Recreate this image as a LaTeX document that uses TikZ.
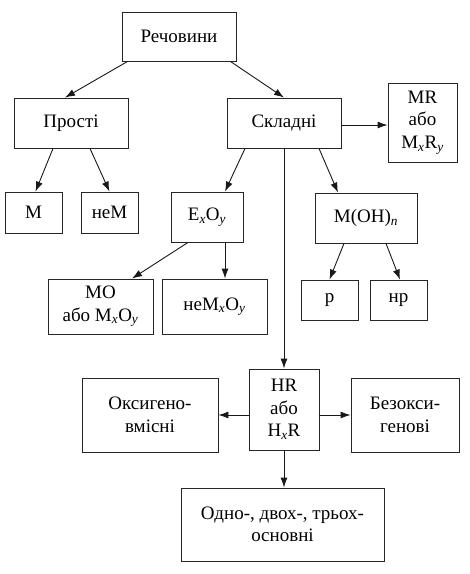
\documentclass[tikz,border=0pt]{standalone}
\usepackage{fontspec}
\setmainfont{Liberation Serif}
\usetikzlibrary{arrows.meta}
\newcommand{\sbi}[1]{\textsubscript{\textit{#1}}}
\begin{document}
\begin{tikzpicture}[x=1pt,y=-1pt,
  box/.style={draw=black!85, line width=0.9pt, rectangle, inner sep=0pt, align=center,
    font=\fontsize{19}{22.5}\selectfont, text=black},
  arr/.style={line width=0.9pt, draw=black!90, -{Latex[length=10pt,width=7pt]}}]
\useasboundingbox (0,0) rectangle (470,574);
\fill[white] (0,0) rectangle (470,574);
\node[box, minimum width=114pt, minimum height=49pt] (rech) at (179,36.5) {Речовини};
\node[box, minimum width=114pt, minimum height=50pt] (prost) at (71,123) {Прості};
\node[box, minimum width=114pt, minimum height=50pt] (skl) at (284,123) {Складні};
\node[box, minimum width=69pt, minimum height=79pt] (mr) at (422.5,122.5) {MR\\або\\M\sbi{x}R\sbi{y}};
\node[box, minimum width=57pt, minimum height=41pt] (m) at (33.5,212.5) {M};
\node[box, minimum width=57pt, minimum height=41pt] (nem) at (109.5,212.5) {неM};
\node[box, minimum width=72pt, minimum height=50pt] (exoy) at (207,217) {E\sbi{x}O\sbi{y}};
\node[box, minimum width=102pt, minimum height=50pt] (moh) at (366,218) {M(OH)\sbi{n}};
\node[box, minimum width=105pt, minimum height=55pt] (mo) at (100.5,306.5) {MO\\або M\sbi{x}O\sbi{y}};
\node[box, minimum width=105pt, minimum height=55pt] (nemo) at (214.5,306.5) {неM\sbi{x}O\sbi{y}};
\node[box, minimum width=57pt, minimum height=40pt] (r) at (329.5,300) {р};
\node[box, minimum width=57pt, minimum height=40pt] (nr) at (398.5,300) {нр};
\node[box, minimum width=70pt, minimum height=81pt] (hr) at (284,409.5) {HR\\або\\H\sbi{x}R};
\node[box, minimum width=136pt, minimum height=74pt] (oks) at (150,415) {Оксигено-\\вмісні};
\node[box, minimum width=108pt, minimum height=74pt] (bez) at (405,415) {Безокси-\\генові};
\node[box, minimum width=203pt, minimum height=73pt] (odno) at (282.5,524.5) {Одно-, двох-, трьох-\\основні};

\draw[arr] ([xshift=6pt]rech.south west) -- ([xshift=-6pt]prost.north);
\draw[arr] ([xshift=-6pt]rech.south east) -- (skl.north);
\draw[arr] ([xshift=-18pt]prost.south) -- ([xshift=2pt]m.north);
\draw[arr] ([xshift=19pt]prost.south) -- (nem.north);
\draw[arr] ([xshift=-39pt]skl.south) -- ([xshift=18pt]exoy.north);
\draw[arr] ([xshift=35pt]skl.south) -- ([xshift=-28pt]moh.north);
\draw[arr] ([yshift=-2pt]skl.east) -- ([yshift=-2pt]skl.east -| mr.west);
\draw[arr] (skl.south) -- (hr.north);
\draw[arr] ([xshift=-19pt]exoy.south) -- ([xshift=31.5pt]mo.north);
\draw[arr] ([xshift=18pt]exoy.south) -- ([xshift=18pt]exoy.south |- nemo.north);
\draw[arr] ([xshift=-22pt]moh.south) -- (r.north);
\draw[arr] ([xshift=20pt]moh.south) -- ([xshift=1.5pt]nr.north);
\draw[arr] (hr.west |- oks.east) -- (oks.east);
\draw[arr] (hr.east |- bez.west) -- (bez.west);
\draw[arr] (hr.south) -- (hr.south |- odno.north);
\end{tikzpicture}
\end{document}
